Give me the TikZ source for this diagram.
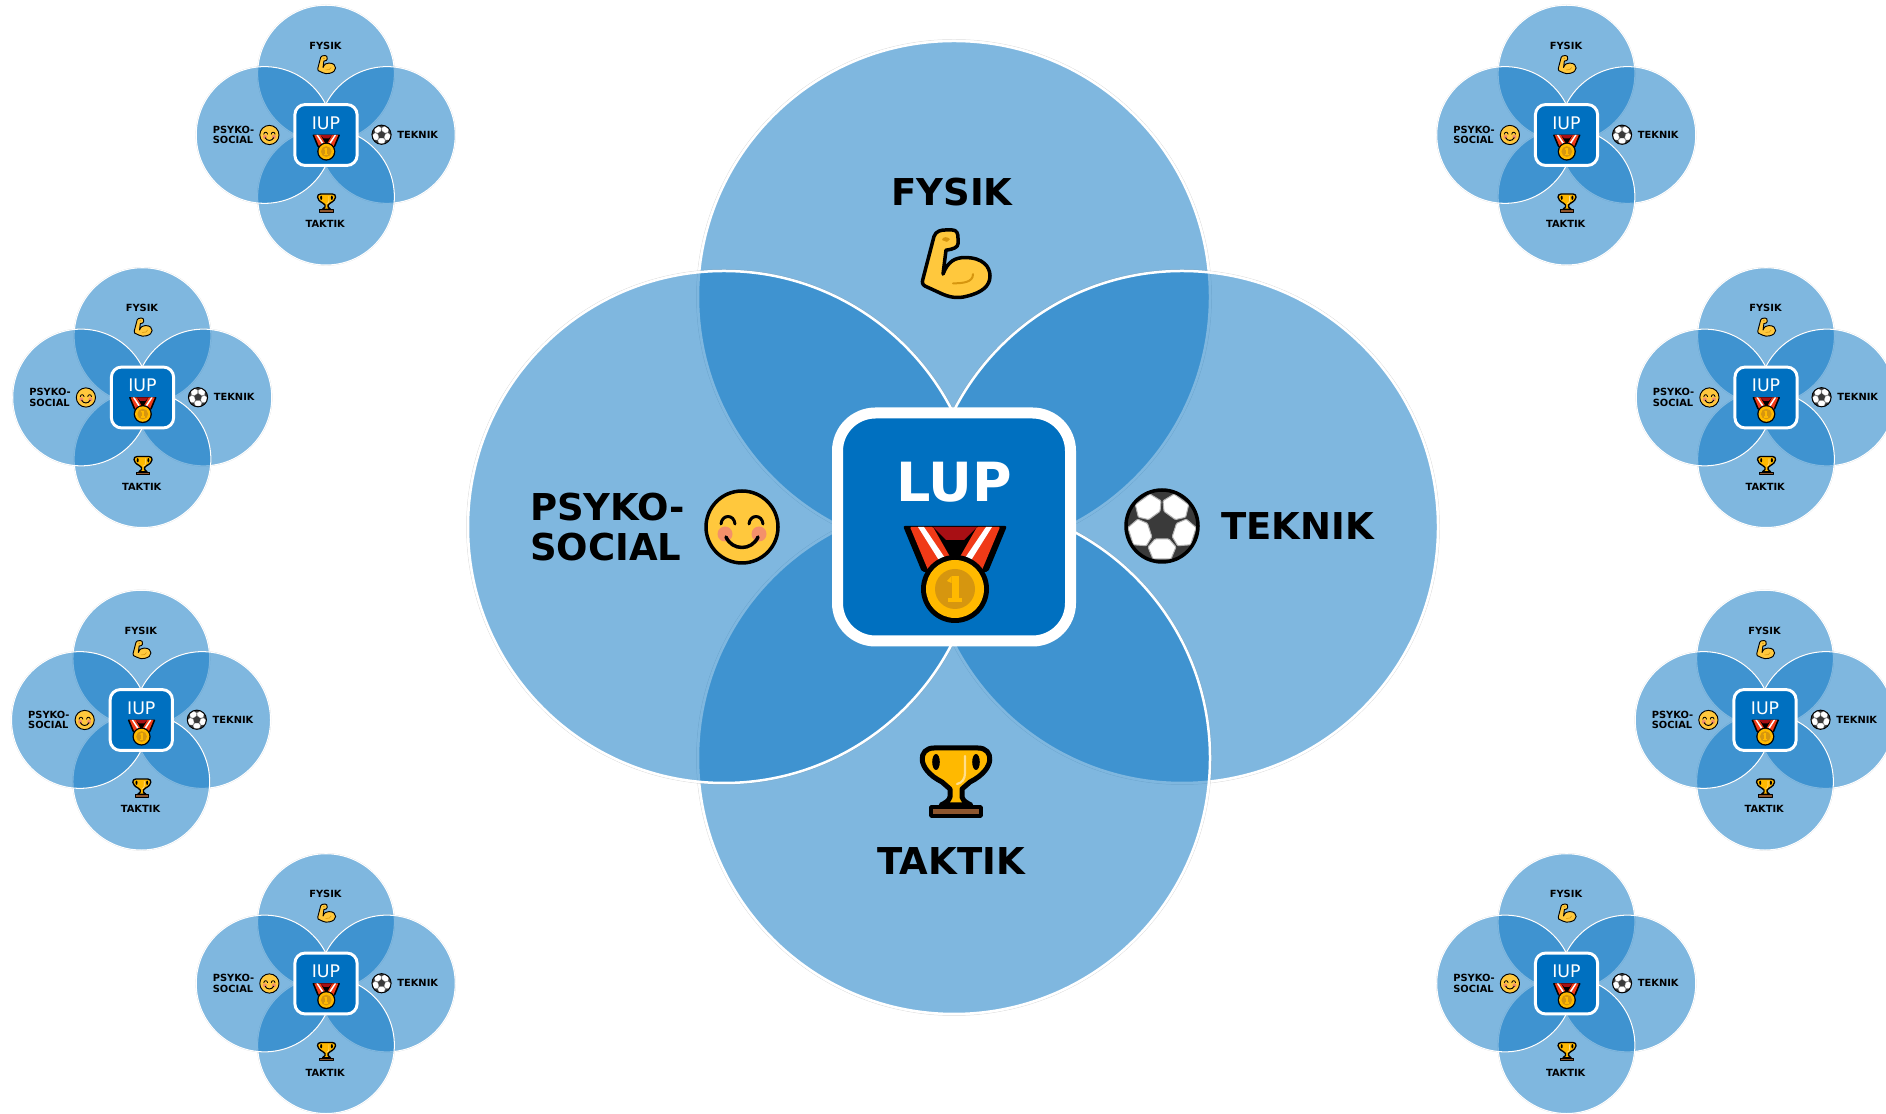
\documentclass[tikz,border=0pt]{standalone}
\usepackage{fontspec}
\setmainfont{DejaVu Sans}
\definecolor{vennblue}{HTML}{0070C0}
\definecolor{emojigold}{HTML}{FFB900}
\definecolor{emojiskin}{HTML}{FFC83D}
\definecolor{emojishade}{HTML}{D6960F}
\definecolor{emojicheek}{HTML}{F4906A}
\definecolor{ribbonred}{HTML}{F03A17}
\definecolor{ribbondark}{HTML}{A80F14}
\definecolor{trophybase}{HTML}{8E562E}
\definecolor{balldark}{HTML}{3A3A3A}
\newcommand{\trophyshape}{(-22,33) .. controls (-38,33) and (-40,12) .. (-14,-1) -- (-6,-8) -- (-6,-16) .. controls (-7,-20) and (-11,-22) .. (-15,-24) -- (15,-24) .. controls (11,-22) and (7,-20) .. (6,-16) -- (6,-8) -- (14,-1) .. controls (40,12) and (38,33) .. (22,33) -- cycle}
\tikzset{
	vennring/.style={fill=vennblue,fill opacity=0.5,draw=white,line width=0.5pt+2pt*\vscale},
	venngrey/.style={draw=gray,draw opacity=0.3,line width=0.5pt},
	vennbox/.style={rectangle,draw=white,fill=vennblue,line width=11pt*\vscale,minimum width=233pt,minimum height=228pt,rounded corners=38pt*\vscale,inner sep=0pt},
	vennlabel/.style={inner sep=0pt,text=black,font=\fontsize{37}{40}\selectfont\bfseries},
	emojiline/.style={draw=black,line width=3.5pt*\vscale,line join=round,line cap=round},
	pics/smile/.style={code={
		\draw[emojiline,fill=emojiskin] (0,0) circle (36);
		\fill[emojicheek] (-17,-7) circle (7.5);
		\fill[emojicheek] (17,-7) circle (7.5);
		\foreach \s in {-1,1}
			\draw[emojiline,line width=3pt*\vscale] (\s*21,3) .. controls (\s*20,13) and (\s*8,13) .. (\s*7,3);
		\draw[emojiline] (-16,-10) .. controls (-10,-24) and (10,-24) .. (16,-10);
	}},
	pics/muscle/.style={code={
		\draw[emojiline,fill=emojiskin] (-21,30) .. controls (-19,36) and (-14,37) .. (-9,37) -- (-3,37) .. controls (2,37) and (3,33) .. (3,28) -- (3,22) .. controls (3,18) and (-2,16) .. (-9,15) -- (-12,-11) .. controls (-7,3) and (0,7) .. (10,7) .. controls (28,7) and (35,-3) .. (35,-13) .. controls (35,-24) and (27,-31) .. (12,-35) .. controls (2,-38) and (-6,-36) .. (-14,-32) -- (-30,-24) .. controls (-33,-22) and (-33,-20) .. (-32,-16) -- cycle;
		\fill[emojishade] (-13,26) .. controls (-13,30) and (-7,30) .. (-5,27) -- (-8,24) -- cycle;
		\draw[emojishade,line width=2pt*\vscale,line cap=round] (-2,-21) .. controls (8,-21) and (18,-20) .. (18,-11);
	}},
	pics/trophy/.style={code={
		\draw[emojiline,line width=5pt*\vscale,fill=emojigold] \trophyshape;
		\fill[black] (-20,19) ellipse (3.8 and 8);
		\fill[black] (20,19) ellipse (3.8 and 8);
		\draw[emojiline,fill=trophybase] (-25,-26) rectangle (25,-35);
		\draw[emojiskin!60!white,line width=2.2pt*\vscale,line cap=round] (9,25) -- (9,8) .. controls (9,2) and (6,-2) .. (1,-3);
	}},
	pics/soccerball/.style={code={
		\begin{scope}
			\clip (0,0) circle (36);
			\fill[balldark] (0,0) circle (36);
			\foreach \a in {54,126,198,270,342}
				\draw[rotate=\a,fill=white,draw=gray!60,line width=1pt*\vscale,rounded corners=1pt*\vscale] (13,7) -- (21,14) -- (33,9) -- (33,-9) -- (21,-14) -- (13,-7) -- cycle;
		\end{scope}
		\draw[emojiline,fill=none] (0,0) circle (36);
	}},
	pics/medal/.style={code={
		\fill[black,rounded corners=2pt*\vscale] (-52,48) -- (52,48) -- (33,2) -- (-33,2) -- cycle;
		\fill[ribbondark] (-22,47) -- (22,47) -- (9,34) -- (-9,34) -- cycle;
		\foreach \s in {-1,1} {
			\begin{scope}[xscale=\s]
				\fill[ribbonred,rounded corners=1pt*\vscale] (-45,47) -- (-22,47) -- (-2,12) -- (-27,4) -- cycle;
				\fill[white] (-37,47) -- (-31,47) -- (-10,16) -- (-15,12) -- cycle;
			\end{scope}
		}
		\fill[black] (0,-15) circle (34);
		\fill[emojigold] (0,-15) circle (29);
		\fill[emojishade] (0,-15) circle (20);
		\fill[emojigold] (-7,-28) rectangle (7,-24);
		\fill[emojigold] (-3.5,-24) rectangle (3.5,-2);
		\fill[emojigold] (-8,-7) -- (-3.5,-2) -- (-3.5,-9) -- cycle;
	}}
}
\newcommand{\vennfig}[6]{
	\begin{scope}[shift={(#2,#3)},scale=#4,transform shape]
		\def\vscale{#4}
		\foreach \px/\py in {0/230,228/0,0/-231,-230/0} {
			\draw[venngrey] (\px,\py) circle (257.5);
			\draw[vennring] (\px,\py) circle (256);
		}
		\node[vennbox] (#1-box) at (0,0) {};
		\node[inner sep=0pt,text=white,font=#6] (#1-title) at (0,45) {#5};
		\node[vennlabel] (#1-fysik) at (-2,335) {FYSIK};
		\node[vennlabel,anchor=west,align=left] (#1-psyko) at (-424,0) {PSYKO-\\SOCIAL};
		\node[vennlabel,anchor=west] (#1-teknik) at (267,1) {TEKNIK};
		\node[vennlabel] (#1-taktik) at (-3,-334) {TAKTIK};
		\pic[yscale=0.92] at (1,263) {muscle};
		\pic at (-212,0) {smile};
		\pic at (208,1) {soccerball};
		\pic at (2,-254) {trophy};
		\pic at (1,-47) {medal};
	\end{scope}
}
\begin{document}
\begin{tikzpicture}[x=1pt,y=1pt]
	\useasboundingbox (0,0) rectangle (1886,1113);
	\clip (0,0) rectangle (1886,1113);
	\vennfig{main}{954}{586}{1}{LUP}{\fontsize{54}{58}\selectfont\bfseries}
	\vennfig{topleft}{326}{978}{0.267}{IUP}{\fontsize{65}{70}\selectfont}
	\vennfig{upperleft}{142.5}{715.5}{0.267}{IUP}{\fontsize{65}{70}\selectfont}
	\vennfig{lowerleft}{141.3}{393}{0.267}{IUP}{\fontsize{65}{70}\selectfont}
	\vennfig{bottomleft}{326}{129.5}{0.267}{IUP}{\fontsize{65}{70}\selectfont}
	\vennfig{topright}{1566.5}{978}{0.267}{IUP}{\fontsize{65}{70}\selectfont}
	\vennfig{upperright}{1766}{715.5}{0.267}{IUP}{\fontsize{65}{70}\selectfont}
	\vennfig{lowerright}{1765}{393}{0.267}{IUP}{\fontsize{65}{70}\selectfont}
	\vennfig{bottomright}{1566.5}{129.5}{0.267}{IUP}{\fontsize{65}{70}\selectfont}
\end{tikzpicture}
\end{document}
